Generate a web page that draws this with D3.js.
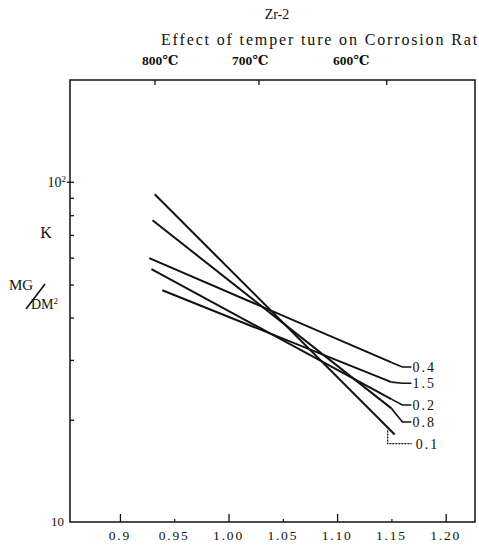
<!DOCTYPE html>
<html>
<head>
<meta charset="utf-8">
<script src="https://cdn.jsdelivr.net/npm/d3@7"></script>
<style>
  body { margin: 0; background: #fff; }
  svg { display: block; }
  text { font-family: "Liberation Serif", "DejaVu Serif", serif; fill: #111; }
</style>
</head>
<body>
<svg id="chart" width="479" height="552"></svg>
<script>
// ---- data ----
const seriesNames = ["0.4", "1.5", "0.2", "0.8", "0.1"];
const xStart = [0.927, 0.939, 0.929, 0.930, 0.932];   // 1000/T at left end
const yStart = [59.8, 48.1, 55.5, 77.3, 92.2];         // K, mg/dm² at left end
const xEnd   = [1.150, 1.150, 1.150, 1.150, 1.153];    // 1000/T at right end
const yEnd   = [29.5, 25.8, 23.0, 21.6, 18.1];         // K at right end
const labelY = [28.6, 25.6, 22.1, 19.7, 17.0];         // K value where each label sits

const xTickMajor = [0.9, 1.00, 1.10, 1.20];
const xTickMinor = [0.95, 1.05, 1.15];
const xTickLabels = ["0.9", "0.95", "1.00", "1.05", "1.10", "1.15", "1.20"];
const xTickLabelVals = [0.9, 0.95, 1.00, 1.05, 1.10, 1.15, 1.20];
const yMinorTicks = [20, 30, 40, 50, 60, 70, 80, 90];
const tempTicks = [800, 700, 600];                       // °C
const tempLabels = ["800℃", "700℃", "600℃"];
const tempLabelPos = [0.937, 1.020, 1.113];              // 1000/T where labels are centred

// ---- layout ----
const svg = d3.select("#chart");
const L = 70, R = 475, T = 80, B = 522;
const x = d3.scaleLinear().domain([0.854, 1.227]).range([L, R]);
const y = d3.scaleLog().domain([10, 200]).range([B, T]);

// frame
svg.append("rect").attr("x", L).attr("y", T).attr("width", R - L).attr("height", B - T)
  .attr("fill", "none").attr("stroke", "#111").attr("stroke-width", 1.5);

// bottom axis ticks (inward)
svg.append("g").attr("transform", `translate(0,${B})`)
  .call(d3.axisBottom(x).tickValues(xTickMajor).tickSize(-8).tickFormat(""))
  .call(g => g.select(".domain").remove())
  .selectAll("line").attr("stroke", "#111").attr("stroke-width", 1.3);
svg.append("g").attr("transform", `translate(0,${B})`)
  .call(d3.axisBottom(x).tickValues(xTickMinor).tickSize(-3).tickFormat(""))
  .call(g => g.select(".domain").remove())
  .selectAll("line").attr("stroke", "#111").attr("stroke-width", 1.2);
svg.append("g").selectAll("text").data(xTickLabelVals).join("text")
  .attr("x", d => x(d)).attr("y", B + 18)
  .attr("text-anchor", "middle").attr("font-size", 13.5).attr("letter-spacing", 1.8)
  .text((d, i) => xTickLabels[i]);

// left axis ticks (inward)
svg.append("g").attr("transform", `translate(${L},0)`)
  .call(d3.axisLeft(y).tickValues(yMinorTicks).tickSize(-4).tickFormat(""))
  .call(g => g.select(".domain").remove())
  .selectAll("line").attr("stroke", "#111").attr("stroke-width", 1.3);
svg.append("line").attr("x1", L - 3).attr("x2", L + 4).attr("y1", y(100)).attr("y2", y(100))
  .attr("stroke", "#111").attr("stroke-width", 1.3);
const t100 = svg.append("text").attr("x", L - 4).attr("y", y(100) + 5)
  .attr("text-anchor", "end").attr("font-size", 14);
t100.append("tspan").text("10");
t100.append("tspan").attr("dy", -5).attr("font-size", 9).text("2");
svg.append("text").attr("x", L - 6).attr("y", y(10) + 4)
  .attr("text-anchor", "end").attr("font-size", 13).text("10");

// top axis ticks (inward) in °C
svg.append("g").attr("transform", `translate(0,${T})`)
  .call(d3.axisTop(x).tickValues(tempTicks.map(c => 1000 / (c + 273.15))).tickSize(-5).tickFormat(""))
  .call(g => g.select(".domain").remove())
  .selectAll("line").attr("stroke", "#111").attr("stroke-width", 1.3);
svg.append("g").selectAll("text").data(tempLabelPos).join("text")
  .attr("x", d => x(d)).attr("y", T - 15)
  .attr("text-anchor", "middle").attr("font-size", 13.5).attr("font-weight", "bold")
  .text((d, i) => tempLabels[i]);

// titles
svg.append("text").attr("x", 277).attr("y", 19).attr("text-anchor", "middle")
  .attr("font-size", 14).text("Zr-2");
svg.append("text").attr("x", 161).attr("y", 45).attr("text-anchor", "start")
  .attr("font-size", 16).attr("letter-spacing", 1.85).text("Effect of temper ture on Corrosion Rat");

// y-axis unit label
svg.append("text").attr("x", 46).attr("y", 238).attr("text-anchor", "middle")
  .attr("font-size", 16).text("K");
svg.append("text").attr("x", 9).attr("y", 290).attr("font-size", 15).text("MG");
svg.append("line").attr("x1", 26).attr("y1", 309).attr("x2", 45).attr("y2", 284)
  .attr("stroke", "#111").attr("stroke-width", 1.6);
const dm = svg.append("text").attr("x", 31).attr("y", 309).attr("font-size", 14);
dm.append("tspan").text("DM");
dm.append("tspan").attr("dy", -5).attr("font-size", 9).text("2");

// lines
const series = seriesNames.map((n, i) => ({
  name: n, pts: [[xStart[i], yStart[i]], [xEnd[i], yEnd[i]]], labelY: labelY[i]
}));
const line = d3.line().x(d => x(d[0])).y(d => y(d[1]));
svg.append("g").selectAll("path").data(series).join("path")
  .attr("d", d => line(d.pts)).attr("fill", "none")
  .attr("stroke", "#111").attr("stroke-width", 2);

// leaders + labels
series.forEach((s, i) => {
  const ex = x(s.pts[1][0]), ey = y(s.pts[1][1]), ly = y(s.labelY);
  let pts, tx;
  if (s.name === "0.1") {
    pts = [[ex - 7, ey - 4], [ex - 7, ly], [ex + 17, ly]];
    tx = ex + 21;
    svg.append("path").attr("d", d3.line()(pts)).attr("fill", "none")
      .attr("stroke", "#111").attr("stroke-width", 1.3).attr("stroke-dasharray", "2,1");
  } else {
    pts = [[ex, ey], [ex + 11, ly], [ex + 20, ly]];
    tx = ex + 21;
    svg.append("path").attr("d", d3.line()(pts)).attr("fill", "none")
      .attr("stroke", "#111").attr("stroke-width", 1.6);
  }
  svg.append("text").attr("x", tx).attr("y", ly + 5).attr("font-size", 14)
    .attr("letter-spacing", 2).text(s.name);
});
</script>
</body>
</html>
